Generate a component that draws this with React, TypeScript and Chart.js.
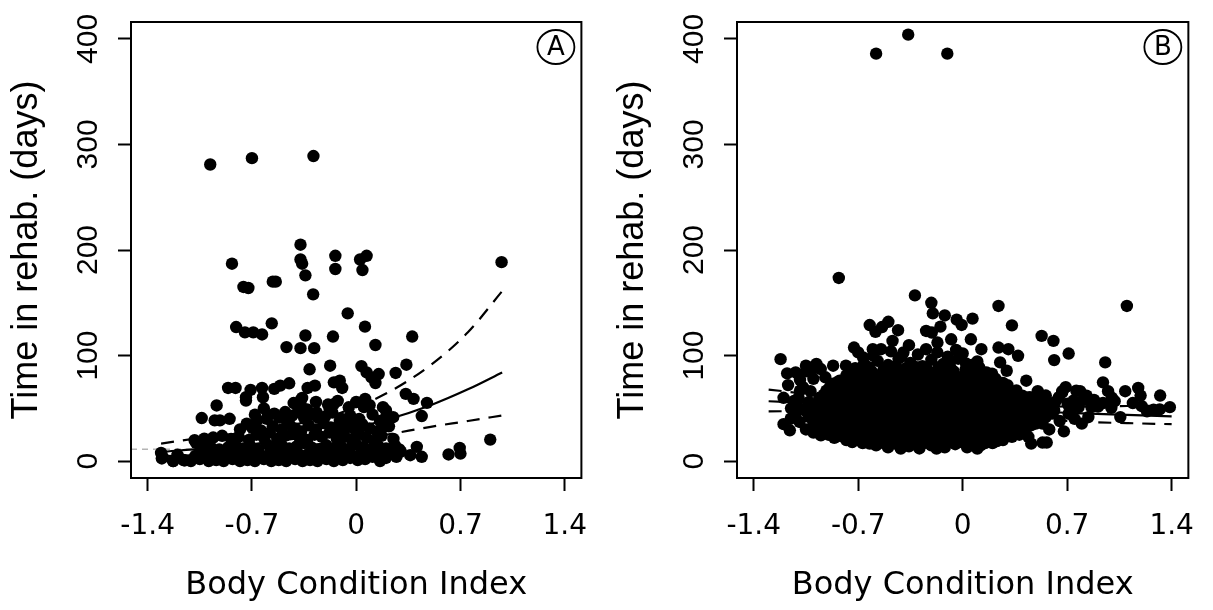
import React, { useEffect, useRef } from "react";
import { Chart, registerables } from "chart.js";
Chart.register(...registerables);

const xTicks = [-1.4, -0.7, 0, 0.7, 1.4];
const xTickLabels = ["-1.4", "-0.7", "0", "0.7", "1.4"];
const yTicks = [0, 100, 200, 300, 400];
const yTickLabels = ["0", "100", "200", "300", "400"];
const panelLabels = ["A", "B"];
const xTitle = "Body Condition Index";
const yTitle = "Time in rehab. (days)";

// Panel A: observations [body condition index, days]
const scatterA: number[][] = [
  [-0.98, 281], [-0.7, 287], [-0.287, 289],
  [-0.374, 205], [-0.834, 187], [-0.374, 191], [-0.363, 187], [-0.341, 176], [-0.289, 158],
  [-0.14, 194.5], [-0.14, 182], [0.026, 191], [0.07, 194.5], [0.042, 181], [0.976, 188.5],
  [-0.757, 165], [-0.724, 164], [-0.56, 170], [-0.54, 170],
  [-0.057, 140], [-0.806, 127], [-0.747, 122], [-0.691, 122], [-0.632, 120], [-0.567, 130.5], [-0.341, 119], [-0.156, 118], [0.059, 127.4], [0.376, 118],
  [-0.468, 108], [-0.374, 107], [-0.282, 107], [0.129, 110],
  [-0.313, 87], [-0.175, 90.4], [0.035, 90], [0.07, 84], [0.103, 79.3], [0.151, 82.5], [0.129, 74], [0.265, 83.5], [0.337, 91.3],
  [0.333, 63.7], [0.385, 59], [0.475, 55.2], [0.44, 42.7], [0.9, 20.4], [0.62, 6.3], [0.695, 12.5], [0.7, 7.2], [0.363, 5.6], [0.407, 13.5], [0.44, 4.1],
  [-0.86, 69.3], [-0.81, 69.3], [-0.709, 67.5], [-0.632, 69.3], [-0.626, 60.5], [-0.55, 68.4], [-0.51, 71.5], [-0.45, 73.7], [-0.326, 69.3], [-0.277, 71.5], [-0.15, 74.6], [-0.11, 76.2], [-0.094, 69.3],
  [-0.937, 52.7], [-0.74, 57.4], [-0.74, 60.5], [-1.037, 40.8], [-0.95, 38.6], [-0.915, 38.6], [-0.85, 40.1], [-1.075, 17.2], [-1.02, 21.3], [-0.96, 22.3],
  [-0.735, 35.5], [-0.665, 38.8], [-0.593, 43.4], [-0.517, 41.2], [-0.477, 46.5], [-0.378, 51.1], [-0.374, 57.4], [-0.363, 59.9], [-0.265, 46], [-0.258, 41.3], [-0.189, 53.6], [-0.124, 57.1], [-0.178, 48.9], [-0.097, 40], [-0.036, 35.5], [-0.057, 32.3], [0.06, 59], [0.052, 51.1], [0.18, 51.1], [0.2, 41.6], [0.248, 41.6], [0.183, 32.3],
  [-1.305, 2.5], [-1.31, 7.8], [-1.228, 0], [-1.152, 0.6], [-1.085, 19.8], [-1.02, 14.2],
  [-1.23, 0], [-1.16, 1], [-1.11, 0], [-1.05, 2], [-0.99, 0], [-0.94, 1], [-0.89, 0], [-0.83, 2], [-0.78, 0], [-0.73, 1], [-0.68, 0], [-0.62, 2], [-0.57, 0], [-0.52, 1], [-0.47, 0], [-0.41, 2], [-0.36, 0], [-0.31, 1], [-0.26, 0], [-0.2, 2], [-0.15, 0], [-0.09, 1], [-0.04, 3], [0.01, 1], [0.06, 2], [0.11, 4], [0.16, 0], [0.2, 3],
  [-1.3, 4], [-1.2, 6], [-1.08, 5], [-1.02, 7], [-0.96, 5], [-0.9, 8], [-0.84, 6], [-0.79, 5], [-0.74, 8], [-0.69, 6], [-0.63, 5], [-0.58, 7], [-0.53, 6], [-0.49, 9], [-0.44, 5], [-0.39, 7], [-0.33, 6], [-0.28, 8], [-0.23, 5], [-0.18, 7], [-0.12, 6], [-0.07, 9], [-0.02, 5], [0.03, 7], [0.08, 6], [0.13, 8], [0.19, 5], [0.24, 7], [0.27, 4], [0.3, 9],
  [-1.04, 12], [-0.98, 14], [-0.92, 11], [-0.86, 13], [-0.81, 15], [-0.76, 12], [-0.71, 14], [-0.66, 11], [-0.6, 16], [-0.55, 13], [-0.5, 15], [-0.45, 12], [-0.4, 14], [-0.35, 17], [-0.3, 13], [-0.25, 11], [-0.2, 15], [-0.15, 12], [-0.1, 14], [-0.05, 11], [0.0, 16], [0.05, 13], [0.1, 11], [0.15, 14], [0.2, 12], [0.26, 15], [0.29, 11],
  [-0.9, 24], [-0.84, 21], [-0.79, 23], [-0.72, 20], [-0.67, 25], [-0.62, 22], [-0.58, 27], [-0.53, 21], [-0.48, 24], [-0.43, 26], [-0.38, 22], [-0.33, 20], [-0.28, 25], [-0.23, 23], [-0.18, 27], [-0.13, 21], [-0.08, 24], [-0.03, 20], [0.02, 26], [0.07, 22], [0.12, 19], [0.17, 24], [0.25, 21],
  [-0.78, 30], [-0.7, 32], [-0.64, 29], [-0.56, 33], [-0.5, 30], [-0.45, 35], [-0.41, 31], [-0.37, 28], [-0.32, 34], [-0.27, 30], [-0.22, 36], [-0.17, 32], [-0.12, 29], [-0.06, 33], [-0.01, 30], [0.04, 35], [0.09, 31], [0.14, 28], [0.22, 33],
  [-0.68, 44], [-0.6, 40], [-0.55, 45], [-0.47, 39], [-0.43, 43], [-0.39, 47], [-0.35, 41], [-0.3, 44], [-0.21, 42], [-0.16, 46], [-0.11, 38], [-0.04, 43], [0.02, 40], [0.11, 44], [0.16, 38],
  [-0.62, 50], [-0.42, 55], [-0.37, 52], [-0.33, 49], [-0.27, 56], [-0.15, 54], [-0.05, 51], [0.0, 56], [0.09, 53], [0.2, 48],
];

// Panel B: observations [body condition index, days]
const scatterB: number[][] = [
  [-0.58, 386], [-0.365, 404], [-0.103, 386],
  [-0.83, 173.5], [-0.32, 157], [-0.21, 150], [-0.2, 140], [-0.12, 138], [0.24, 147], [1.1, 147], [0.33, 128.6], [-0.04, 134], [-0.007, 129], [0.066, 135],
  [-1.22, 96.6], [-1.176, 83.1], [-1.119, 84], [-1.09, 76.9], [-1.09, 66.8], [-1.02, 66.2], [-1.104, 51.1], [-1.06, 48.6], [-1.152, 40.2], [-1.093, 37.1], [-1.158, 29.2],
  [-1.05, 90.4], [-1.006, 87.2], [-0.951, 87.2], [-0.868, 90.4], [-0.782, 90.4], [-0.98, 52.7], [-0.94, 41.7], [-0.95, 24.5],
  [-0.92, 79.4], [-0.87, 73.1], [-0.825, 76.2], [-0.913, 66.8], [-0.798, 22.9], [-1.2, 60], [-1.13, 57], [-1.17, 72], [-1.05, 30], [-1.0, 27],
  [-1.1, 60], [-1.15, 50], [-1.07, 70], [-1.0, 78], [-1.12, 44], [-1.2, 35], [-1.05, 85], [-0.98, 92],
  [-0.728, 107.6], [-0.667, 98.2], [-0.7, 103], [-0.623, 128.9], [-0.584, 122.4], [-0.54, 127], [-0.498, 132], [-0.433, 124], [-0.47, 113.9], [-0.36, 109.8], [-0.397, 102.9], [-0.602, 106], [-0.547, 106],
  [-0.245, 123.3], [-0.207, 121.8], [-0.149, 127.4], [-0.169, 112.3], [-0.077, 115.4], [0.055, 115.4], [-0.044, 105.4], [-0.245, 106], [0.125, 106],
  [0.24, 107.6], [0.306, 106], [0.371, 99.8], [0.251, 93.5], [0.295, 85.6], [0.426, 76.2], [0.503, 66.2], [0.557, 62.1], [0.667, 65.2],
  [0.022, 92.5], [0.098, 94.4], [0.12, 85.6], [0.05, 81.6], [-0.087, 92], [-0.077, 87.2], [-0.181, 83.8], [-0.131, 82.8], [0.197, 82.8], [0.175, 76.2],
  [-0.415, 11.9], [-0.175, 11.9], [0.098, 11.9], [-0.623, 16.6], [0.404, 27.6], [0.49, 35.5], [0.459, 16.6], [0.535, 17.6], [0.563, 17.6],
  [0.529, 118.6], [0.608, 113.9], [0.71, 101.9], [0.613, 95.7], [0.955, 93.5], [0.94, 74.6], [0.974, 66.2], [1.018, 56.8], [0.996, 50.5], [1.089, 66.2],
  [1.176, 69.3], [1.192, 62.1], [1.323, 62.1], [1.388, 51.1], [1.235, 47.1], [1.279, 48.6], [1.056, 41.7], [0.798, 35.5], [0.678, 28.2],
  [0.761, 66.8], [0.787, 66.2], [0.809, 58], [0.743, 57.4], [0.863, 51.1], [0.907, 51.7], [0.667, 66.2], [0.645, 60.5], [0.703, 54.3],
  [0.579, 54.3], [0.514, 57.4], [0.613, 48], [0.45, 60.5], [0.776, 51.1], [0.71, 44.9], [0.842, 41.7], [0.557, 41.7], [0.49, 44.9], [0.535, 35.5], [0.45, 33.9], [0.44, 22.9],
  [0.6, 45], [0.65, 38], [0.72, 50], [0.58, 30], [0.62, 56], [0.83, 62], [0.88, 58], [0.94, 55], [1.0, 60], [1.14, 55], [1.2, 52], [1.32, 49], [0.69, 70], [0.75, 40],
  [-0.58, 15], [-0.5, 13], [-0.44, 16], [-0.36, 14], [-0.29, 12], [-0.21, 15], [-0.12, 13], [-0.05, 16], [0.03, 13], [0.12, 15], [0.2, 17],
  [-0.74, 18], [-0.67, 17], [-0.6, 19], [-0.53, 17], [-0.46, 18], [-0.39, 17], [-0.33, 19], [-0.26, 17], [-0.19, 18], [-0.12, 17], [-0.06, 19], [0.01, 17], [0.08, 18], [0.15, 17], [0.23, 19],
  [-0.86, 22], [-0.78, 20], [-0.71, 21], [-0.64, 19], [-0.57, 22], [-0.5, 20], [-0.43, 21], [-0.36, 19], [-0.3, 22], [-0.23, 20], [-0.16, 21], [-0.09, 19], [-0.02, 22], [0.05, 20], [0.12, 21], [0.19, 22], [0.27, 20], [0.33, 23],
  [-0.9, 25], [-0.82, 24], [-0.75, 25], [-0.68, 24], [-0.61, 25], [-0.54, 24], [-0.47, 25], [-0.4, 24], [-0.33, 25], [-0.26, 24], [-0.19, 25], [-0.12, 24], [-0.05, 25], [0.02, 24], [0.09, 25], [0.16, 24], [0.23, 25], [0.3, 24], [0.38, 25],
  [-0.94, 29], [-0.89, 27], [-0.82, 28], [-0.75, 27], [-0.68, 29], [-0.61, 27], [-0.54, 28], [-0.47, 27], [-0.4, 29], [-0.33, 27], [-0.26, 28], [-0.19, 27], [-0.12, 29], [-0.05, 27], [0.02, 28], [0.09, 27], [0.16, 29], [0.23, 27], [0.3, 28], [0.37, 27],
  [-0.97, 32], [-0.9, 31], [-0.83, 32], [-0.76, 31], [-0.69, 32], [-0.62, 31], [-0.55, 32], [-0.48, 31], [-0.41, 32], [-0.34, 31], [-0.27, 32], [-0.2, 31], [-0.13, 32], [-0.06, 31], [0.01, 32], [0.08, 31], [0.15, 32], [0.22, 31], [0.29, 32], [0.36, 31], [0.43, 32],
  [-1.0, 36], [-0.93, 34], [-0.86, 35], [-0.79, 34], [-0.72, 36], [-0.65, 34], [-0.58, 35], [-0.51, 34], [-0.44, 36], [-0.37, 34], [-0.3, 35], [-0.23, 34], [-0.16, 36], [-0.09, 34], [-0.02, 35], [0.05, 34], [0.12, 36], [0.19, 34], [0.26, 35], [0.33, 34], [0.4, 36], [0.46, 34],
  [-1.0, 39], [-0.93, 38], [-0.86, 39], [-0.79, 38], [-0.72, 39], [-0.65, 38], [-0.58, 39], [-0.51, 38], [-0.44, 39], [-0.37, 38], [-0.3, 39], [-0.23, 38], [-0.16, 39], [-0.09, 38], [-0.02, 39], [0.05, 38], [0.12, 39], [0.19, 38], [0.26, 39], [0.33, 38], [0.4, 39], [0.48, 38],
  [-1.03, 42], [-0.96, 41], [-0.89, 43], [-0.82, 41], [-0.75, 42], [-0.68, 41], [-0.61, 43], [-0.54, 41], [-0.47, 42], [-0.4, 41], [-0.33, 43], [-0.26, 41], [-0.19, 42], [-0.12, 41], [-0.05, 43], [0.02, 41], [0.09, 42], [0.16, 41], [0.23, 43], [0.3, 41], [0.37, 42], [0.44, 41], [0.51, 43],
  [-1.04, 46], [-0.97, 45], [-0.9, 46], [-0.83, 45], [-0.76, 46], [-0.69, 45], [-0.62, 46], [-0.55, 45], [-0.48, 46], [-0.41, 45], [-0.34, 46], [-0.27, 45], [-0.2, 46], [-0.13, 45], [-0.06, 46], [0.01, 45], [0.08, 46], [0.15, 45], [0.22, 46], [0.29, 45], [0.36, 46], [0.43, 45], [0.5, 46],
  [-1.07, 49], [-1.0, 48], [-0.93, 50], [-0.86, 48], [-0.79, 49], [-0.72, 48], [-0.65, 50], [-0.58, 48], [-0.51, 49], [-0.44, 48], [-0.37, 50], [-0.3, 48], [-0.23, 49], [-0.16, 48], [-0.09, 50], [-0.02, 48], [0.05, 49], [0.12, 48], [0.19, 50], [0.26, 48], [0.33, 49], [0.4, 48], [0.47, 50], [0.54, 48],
  [-1.0, 53], [-0.93, 52], [-0.86, 53], [-0.79, 52], [-0.72, 53], [-0.65, 52], [-0.58, 53], [-0.51, 52], [-0.44, 53], [-0.37, 52], [-0.3, 53], [-0.23, 52], [-0.16, 53], [-0.09, 52], [-0.02, 53], [0.05, 52], [0.12, 53], [0.19, 52], [0.26, 53], [0.33, 52], [0.4, 53], [0.47, 52],
  [-1.03, 56], [-0.96, 55], [-0.89, 57], [-0.82, 55], [-0.75, 56], [-0.68, 55], [-0.61, 57], [-0.54, 55], [-0.47, 56], [-0.4, 55], [-0.33, 57], [-0.26, 55], [-0.19, 56], [-0.12, 55], [-0.05, 57], [0.02, 55], [0.09, 56], [0.16, 55], [0.23, 57], [0.3, 55], [0.37, 56], [0.44, 55], [0.51, 57],
  [-0.96, 60], [-0.89, 59], [-0.82, 60], [-0.75, 59], [-0.68, 60], [-0.61, 59], [-0.54, 60], [-0.47, 59], [-0.4, 60], [-0.33, 59], [-0.26, 60], [-0.19, 59], [-0.12, 60], [-0.05, 59], [0.02, 60], [0.09, 59], [0.16, 60], [0.23, 59], [0.3, 60], [0.37, 59], [0.44, 60],
  [-0.93, 63], [-0.86, 62], [-0.79, 64], [-0.72, 62], [-0.65, 63], [-0.58, 62], [-0.51, 64], [-0.44, 62], [-0.37, 63], [-0.3, 62], [-0.23, 64], [-0.16, 62], [-0.09, 63], [-0.02, 62], [0.05, 64], [0.12, 62], [0.19, 63], [0.26, 62], [0.33, 64], [0.4, 62],
  [-0.9, 67], [-0.83, 66], [-0.76, 67], [-0.69, 66], [-0.62, 67], [-0.55, 66], [-0.48, 67], [-0.41, 66], [-0.34, 67], [-0.27, 66], [-0.2, 67], [-0.13, 66], [-0.06, 67], [0.01, 66], [0.08, 67], [0.15, 66], [0.22, 67], [0.29, 66], [0.36, 67],
  [-0.89, 70], [-0.82, 69], [-0.75, 71], [-0.68, 69], [-0.61, 70], [-0.54, 69], [-0.47, 71], [-0.4, 69], [-0.33, 70], [-0.26, 69], [-0.19, 71], [-0.12, 69], [-0.05, 70], [0.02, 69], [0.09, 71], [0.16, 69], [0.23, 70], [0.3, 72],
  [-0.85, 74], [-0.78, 73], [-0.71, 74], [-0.64, 73], [-0.57, 74], [-0.5, 73], [-0.43, 74], [-0.36, 73], [-0.29, 74], [-0.22, 73], [-0.15, 74], [-0.08, 73], [-0.01, 74], [0.06, 73], [0.13, 74], [0.2, 73], [0.27, 74],
  [-0.79, 77], [-0.72, 76], [-0.65, 78], [-0.58, 76], [-0.51, 77], [-0.44, 76], [-0.37, 78], [-0.3, 76], [-0.23, 77], [-0.16, 76], [-0.09, 78], [-0.02, 76], [0.05, 77], [0.12, 76], [0.22, 78],
  [-0.78, 81], [-0.71, 80], [-0.64, 81], [-0.57, 80], [-0.5, 81], [-0.43, 80], [-0.36, 81], [-0.29, 80], [-0.22, 81], [-0.15, 80], [-0.08, 81], [0.0, 80], [0.08, 81], [0.2, 80],
  [-0.75, 84], [-0.68, 83], [-0.61, 85], [-0.54, 83], [-0.47, 84], [-0.4, 86], [-0.33, 83], [-0.26, 85], [-0.19, 84], [-0.06, 85], [0.16, 84],
  [-0.72, 88], [-0.63, 89], [-0.53, 87], [-0.45, 90], [-0.38, 88], [-0.31, 89], [-0.24, 87], [-0.16, 89], [-0.09, 88], [0.02, 87], [0.11, 89],
  [-0.66, 92], [-0.57, 95], [-0.5, 91], [-0.43, 97], [-0.35, 93], [-0.27, 90], [-0.21, 96], [-0.13, 92], [-0.03, 97], [0.06, 91],
  [-0.6, 100], [-0.48, 104], [-0.41, 99], [-0.3, 101], [-0.17, 103], [-0.1, 99], [0.0, 102],
];

// Fitted curves and confidence bands
const fitXA = [-1.31, -1.0, -0.7, -0.4, -0.1, 0.2, 0.5, 0.75, 0.98];
const fitA = [8.8, 12.0, 16.0, 21.5, 29.0, 39.0, 53.0, 68.0, 84.0];
const upperA = [16.6, 22.9, 27.5, 35.0, 46.0, 64.0, 91.0, 122.0, 161.0];
const lowerA = [4.7, 6.3, 10.0, 14.0, 18.5, 25.0, 32.5, 38.0, 43.3];
const refXA = [-1.512, -1.1];
const refYA = [11.3, 11.3];

const fitXB = [-1.3, -1.0, -0.7, -0.4, -0.1, 0.2, 0.5, 0.8, 1.1, 1.4];
const fitB = [56.7, 55.0, 53.2, 51.5, 49.9, 48.3, 46.8, 45.3, 43.8, 42.3];
const upperB = [67.8, 63.0, 58.5, 55.0, 52.8, 51.8, 51.6, 51.9, 52.2, 52.4];
const lowerB = [47.1, 47.6, 47.8, 47.4, 46.0, 43.5, 40.2, 37.2, 36.0, 35.0];

const boxPlugin = {
  id: "box",
  afterDatasetsDraw(chart: any, _args: any, opts: any) {
    const { ctx, chartArea: a } = chart;
    ctx.save();
    ctx.strokeStyle = "#000";
    ctx.lineWidth = 2;
    ctx.strokeRect(a.left, a.top, a.right - a.left, a.bottom - a.top);
    const cx = a.right - 25.5;
    const cy = a.top + 25;
    ctx.beginPath();
    ctx.ellipse(cx, cy, 18.5, 17, 0, 0, Math.PI * 2);
    ctx.lineWidth = 1.8;
    ctx.stroke();
    ctx.fillStyle = "#000";
    ctx.font = '26px "DejaVu Sans"';
    ctx.textAlign = "center";
    ctx.textBaseline = "middle";
    ctx.fillText(opts.label, cx, cy + 1);
    ctx.restore();
  },
};

function lineSet(xs: number[], ys: number[], dash: number[], color = "#000", width = 2.2, order = 0) {
  return {
    data: xs.map((x, i) => ({ x, y: ys[i] })),
    showLine: true,
    pointRadius: 0,
    borderColor: color,
    borderWidth: width,
    borderDash: dash,
    cubicInterpolationMode: "monotone",
    order,
  };
}

function makeConfig(p: number, padRight: number): any {
  const pts = p === 0 ? scatterA : scatterB;
  const fx = p === 0 ? fitXA : fitXB;
  const f = p === 0 ? fitA : fitB;
  const up = p === 0 ? upperA : upperB;
  const lo = p === 0 ? lowerA : lowerB;
  const datasets: any[] = [
    lineSet(fx, f, []),
    lineSet(fx, up, [13, 9]),
    lineSet(fx, lo, [13, 9]),
    {
      data: pts.map(([x, y]) => ({ x, y })),
      showLine: false,
      pointRadius: 6.2,
      pointBackgroundColor: "#000",
      pointBorderColor: "#000",
      pointBorderWidth: 0,
      order: 1,
    },
  ];
  if (p === 0) datasets.push(lineSet(refXA, refYA, [6, 5], "#b4b4b4", 1.5, 2));
  return {
    type: "scatter",
    data: { datasets },
    plugins: [boxPlugin],
    options: {
      responsive: false,
      animation: false,
      events: [],
      layout: { autoPadding: false, padding: { left: 0, top: 19, right: padRight, bottom: 0 } },
      plugins: { legend: { display: false }, tooltip: { enabled: false }, box: { label: panelLabels[p] } },
      scales: {
        x: {
          type: "linear",
          min: -1.512,
          max: 1.512,
          afterBuildTicks: (s: any) => { s.ticks = xTicks.map((v) => ({ value: v })); },
          afterFit: (s: any) => { s.height = 132; },
          ticks: {
            callback: (_v: any, i: number) => xTickLabels[i],
            font: { family: '"DejaVu Sans"', size: 28, lineHeight: 1.2 },
            color: "#000",
            padding: 18.5,
            minRotation: 0,
            maxRotation: 0,
            autoSkip: false,
          },
          grid: { drawOnChartArea: false, drawTicks: true, tickLength: 13, tickColor: "#000", tickWidth: 2 },
          border: { display: false },
          title: {
            display: true,
            text: xTitle,
            color: "#000",
            font: { family: '"DejaVu Sans"', size: 32, lineHeight: 1.2 },
            padding: { top: 0, bottom: 5 },
          },
        },
        y: {
          type: "linear",
          min: -16,
          max: 416,
          afterBuildTicks: (s: any) => { s.ticks = yTicks.map((v) => ({ value: v })); },
          afterFit: (s: any) => { s.width = 131; },
          ticks: {
            callback: (_v: any, i: number) => yTickLabels[i],
            font: { family: '"Liberation Sans"', size: 30, lineHeight: 1.2 },
            color: "#000",
            padding: 4,
            minRotation: 90,
            maxRotation: 90,
            crossAlign: "center",
            autoSkip: false,
          },
          grid: { drawOnChartArea: false, drawTicks: true, tickLength: 13, tickColor: "#000", tickWidth: 2 },
          border: { display: false },
          title: {
            display: true,
            text: yTitle,
            color: "#000",
            font: { family: '"Liberation Sans"', size: 36, lineHeight: 1.2 },
            padding: { top: 5, bottom: 0 },
          },
        },
      },
    },
  };
}

function Panel({ p, left, width }: { p: number; left: number; width: number }) {
  const ref = useRef<HTMLCanvasElement>(null);
  useEffect(() => {
    const chart = new Chart(ref.current as HTMLCanvasElement, makeConfig(p, p === 0 ? 14 : 16));
    return () => chart.destroy();
  }, [p]);
  return (
    <canvas
      ref={ref}
      width={width}
      height={610}
      style={{ position: "absolute", left, top: 0, width, height: 610 }}
    />
  );
}

export default function App() {
  return (
    <div style={{ position: "absolute", left: 0, top: 0, width: 1213, height: 610, background: "#fff" }}>
      <Panel p={0} left={0} width={606} />
      <Panel p={1} left={606} width={607} />
    </div>
  );
}
